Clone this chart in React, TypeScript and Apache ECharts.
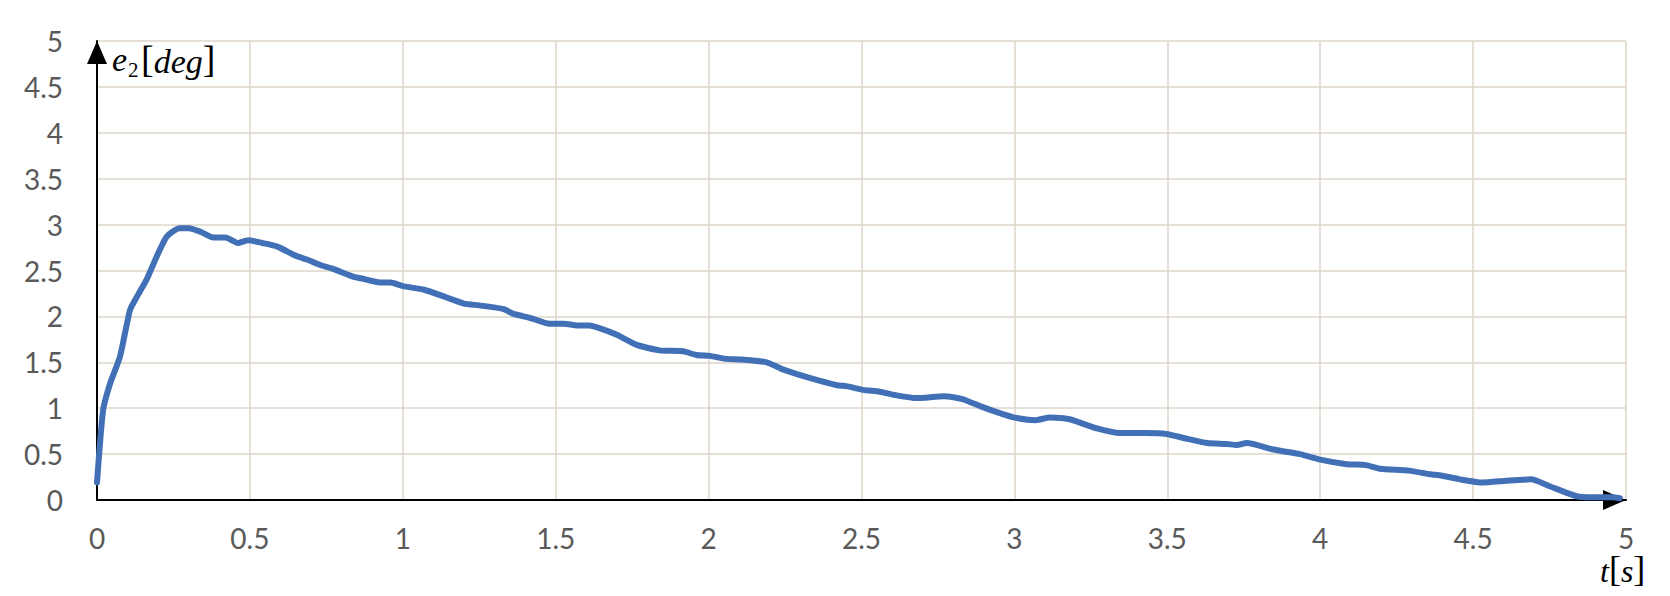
import React, { useEffect, useRef } from 'react';
import * as echarts from 'echarts';

const tValues = [
  0, 0.02, 0.043, 0.075, 0.108, 0.13, 0.162, 0.195, 0.228, 0.27, 0.3, 0.34, 0.38, 0.42, 0.46, 0.495,
  0.54, 0.59, 0.65, 0.686, 0.73, 0.77, 0.84, 0.87, 0.925, 0.96, 1.0, 1.07, 1.14, 1.2, 1.25, 1.33,
  1.36, 1.42, 1.48, 1.525, 1.58, 1.61, 1.645, 1.7, 1.765, 1.84, 1.917, 1.96, 2.005, 2.05, 2.11, 2.19,
  2.245, 2.33, 2.42, 2.45, 2.505, 2.56, 2.615, 2.68, 2.77, 2.83, 2.89, 2.94, 2.997, 3.07, 3.116, 3.18,
  3.27, 3.345, 3.43, 3.497, 3.56, 3.63, 3.694, 3.727, 3.76, 3.847, 3.934, 4.0, 4.087, 4.15, 4.195, 4.29,
  4.36, 4.39, 4.457, 4.53, 4.61, 4.69, 4.75, 4.84, 4.89, 4.955, 4.98,
];

const e2Values = [
  0.19, 0.98, 1.27, 1.56, 2.07, 2.21, 2.4, 2.65, 2.87, 2.96, 2.96, 2.92, 2.86, 2.86, 2.8, 2.83,
  2.8, 2.76, 2.66, 2.62, 2.56, 2.52, 2.43, 2.41, 2.37, 2.37, 2.33, 2.29, 2.21, 2.14, 2.12, 2.08,
  2.03, 1.98, 1.92, 1.92, 1.9, 1.9, 1.87, 1.8, 1.69, 1.63, 1.62, 1.58, 1.57, 1.54, 1.53, 1.5,
  1.42, 1.33, 1.25, 1.24, 1.2, 1.18, 1.14, 1.11, 1.13, 1.1, 1.02, 0.96, 0.9, 0.87, 0.9, 0.88,
  0.78, 0.73, 0.73, 0.72, 0.67, 0.62, 0.61, 0.6, 0.62, 0.55, 0.5, 0.44, 0.39, 0.38, 0.34, 0.32,
  0.28, 0.27, 0.225, 0.19, 0.21, 0.225, 0.15, 0.04, 0.03, 0.03, 0.02,
];

const axisMin = 0;
const axisMax = 5;
const axisStep = 0.5;

export default function App() {
  const ref = useRef<HTMLDivElement>(null);

  useEffect(() => {
    document.body.style.margin = '0';
    if (!ref.current) return;
    const chart = echarts.init(ref.current, null, { renderer: 'svg' });
    const gridColor = '#ddd5c8';
    const labelStyle = {
      fontFamily: 'Lato, sans-serif',
      fontSize: 28,
      color: '#595959',
    };
    const mathFont = '"Liberation Serif", serif';
    const axisLine = {
      show: true,
      onZero: false,
      lineStyle: { color: '#000000', width: 2 },
      symbol: ['none', 'triangle'],
      symbolSize: [20, 23],
      symbolOffset: [0, -11.5],
    };
    chart.setOption({
      animation: false,
      backgroundColor: '#ffffff',
      grid: { left: 97, right: 44, top: 41, bottom: 96, containLabel: false },
      xAxis: {
        type: 'value',
        min: axisMin,
        max: axisMax,
        interval: axisStep,
        axisLine,
        axisTick: { show: false },
        splitLine: { show: true, lineStyle: { color: gridColor, width: 1.5 } },
        axisLabel: { ...labelStyle, margin: 24 },
      },
      yAxis: {
        type: 'value',
        min: axisMin,
        max: axisMax,
        interval: axisStep,
        axisLine,
        axisTick: { show: false },
        splitLine: { show: true, lineStyle: { color: gridColor, width: 1.5 } },
        axisLabel: { ...labelStyle, margin: 34 },
      },
      series: [
        {
          type: 'line',
          data: tValues.map((t, i) => [t, e2Values[i]]),
          showSymbol: false,
          smooth: 0.2,
          lineStyle: { color: '#4170b6', width: 6, cap: 'round', join: 'round' },
          z: 5,
        },
      ],
      graphic: [
        {
          type: 'text',
          x: 112,
          y: 40,
          z: 10,
          style: {
            text: 'e',
            verticalAlign: 'top',
            fill: '#000000',
            fontFamily: mathFont,
            fontStyle: 'italic',
            fontSize: 34,
            lineHeight: 38,
          },
        },
        {
          type: 'text',
          x: 128,
          y: 59,
          z: 10,
          style: {
            text: '2',
            verticalAlign: 'top',
            fill: '#000000',
            fontFamily: mathFont,
            fontSize: 21,
            lineHeight: 21,
          },
        },
        {
          type: 'text',
          x: 141,
          y: 40,
          z: 10,
          style: {
            text: '{n|[}{i|deg}{n|]}',
            verticalAlign: 'top',
            fill: '#000000',
            rich: {
              i: { fontFamily: mathFont, fontStyle: 'italic', fontSize: 34, lineHeight: 38, verticalAlign: 'bottom' },
              n: { fontFamily: mathFont, fontSize: 38, lineHeight: 38, verticalAlign: 'bottom' },
            },
          },
        },
        {
          type: 'text',
          x: 1600,
          y: 551,
          z: 10,
          style: {
            text: '{i|t}{n|[}{i|s}{n|]}',
            verticalAlign: 'top',
            fill: '#000000',
            rich: {
              i: { fontFamily: mathFont, fontStyle: 'italic', fontSize: 32, lineHeight: 36, verticalAlign: 'bottom' },
              n: { fontFamily: mathFont, fontSize: 36, lineHeight: 36, verticalAlign: 'bottom' },
            },
          },
        },
      ],
    });
    return () => chart.dispose();
  }, []);

  return (
    <div
      ref={ref}
      style={{ width: 1670, height: 596, position: 'absolute', left: 0, top: 0 }}
    />
  );
}
